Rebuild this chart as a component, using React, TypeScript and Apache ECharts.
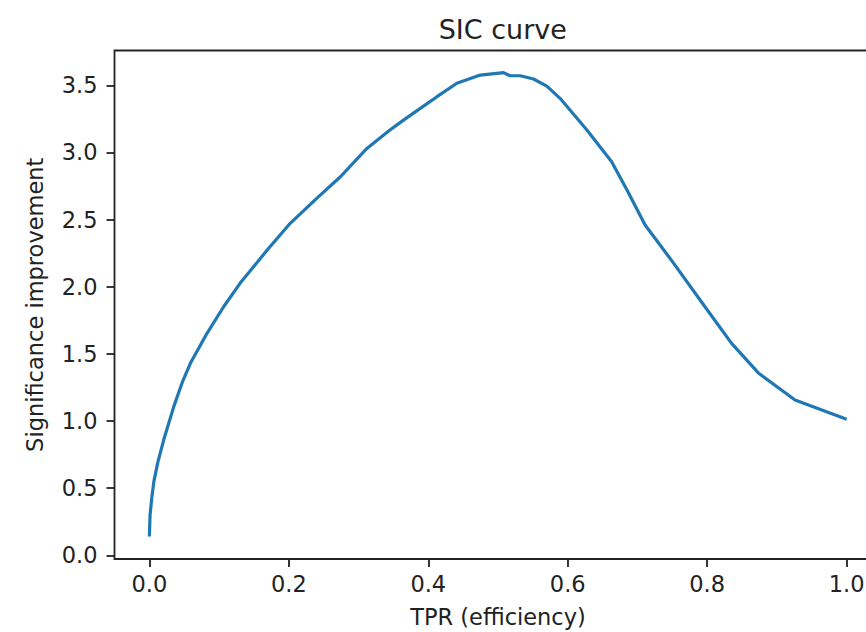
import React, { useEffect, useRef } from "react";
import * as echarts from "echarts";

const tpr = [0, 0.001, 0.0035, 0.0065, 0.012, 0.0205, 0.035, 0.047, 0.0588, 0.0827, 0.1065, 0.13, 0.169, 0.202, 0.24, 0.274, 0.312, 0.345, 0.367, 0.3885, 0.4125, 0.441, 0.4746, 0.508, 0.517, 0.532, 0.551, 0.57, 0.589, 0.6275, 0.663, 0.685, 0.711, 0.752, 0.795, 0.835, 0.874, 0.926, 1.0];
const sic = [0.14, 0.3, 0.43, 0.55, 0.69, 0.858, 1.107, 1.285, 1.43, 1.653, 1.851, 2.025, 2.273, 2.472, 2.658, 2.819, 3.03, 3.167, 3.25, 3.328, 3.415, 3.515, 3.576, 3.594, 3.571, 3.571, 3.547, 3.494, 3.403, 3.167, 2.931, 2.72, 2.459, 2.174, 1.864, 1.578, 1.355, 1.156, 1.013];
const xTicks = [0, 0.2, 0.4, 0.6, 0.8, 1.0];
const yTicks = [0, 0.5, 1.0, 1.5, 2.0, 2.5, 3.0, 3.5];

const FONT = "DejaVu Sans";
const TXT = "#222";

export default function App() {
  const ref = useRef<HTMLDivElement>(null);
  useEffect(() => {
    const chart = echarts.init(ref.current!, null, { renderer: "svg" });
    const data = tpr.map((x, i) => [x, sic[i]]);
    chart.setOption({
      animation: false,
      backgroundColor: "#fff",
      title: {
        text: "SIC curve",
        left: 497.8,
        textAlign: "center",
        top: 11,
        textStyle: { fontFamily: FONT, fontSize: 27, fontWeight: "normal", color: TXT },
      },
      grid: {
        left: 114.5,
        top: 50.5,
        width: 767,
        height: 508.5,
        outerBoundsMode: "none",
        containLabel: false,
        show: true,
        borderColor: "#222",
        borderWidth: 1.8,
        backgroundColor: "transparent",
      },
      xAxis: {
        type: "value",
        min: -0.05,
        max: 1.05,
        name: "TPR (efficiency)",
        nameLocation: "middle",
        nameGap: 46,
        nameMoveOverlap: false,
        nameTextStyle: { fontFamily: FONT, fontSize: 22.5, color: TXT },
        axisLine: { show: false, onZero: false },
        splitLine: { show: false },
        axisTick: { show: true, length: 8, lineStyle: { color: "#222", width: 1.8 }, customValues: xTicks },
        axisLabel: {
          customValues: xTicks,
          formatter: (v: number) => v.toFixed(1),
          fontFamily: FONT,
          fontSize: 22.5,
          color: TXT,
          margin: 13,
        },
      },
      yAxis: {
        type: "value",
        min: -0.0276,
        max: 3.759,
        name: "Significance improvement",
        nameLocation: "middle",
        nameRotate: 90,
        nameGap: 68,
        nameMoveOverlap: false,
        nameTextStyle: { fontFamily: FONT, fontSize: 22.5, color: TXT },
        axisLine: { show: false, onZero: false },
        splitLine: { show: false },
        axisTick: { show: true, length: 8, lineStyle: { color: "#222", width: 1.8 }, customValues: yTicks },
        axisLabel: {
          customValues: yTicks,
          formatter: (v: number) => v.toFixed(1),
          fontFamily: FONT,
          fontSize: 22.5,
          color: TXT,
          margin: 17,
        },
      },
      series: [
        {
          type: "line",
          data,
          showSymbol: false,
          smooth: false,
          lineStyle: { color: "#1f77b4", width: 3.2 },
          clip: true,
        },
      ],
    });
    return () => chart.dispose();
  }, []);
  return (
    <div
      ref={ref}
      style={{ position: "absolute", left: 0, top: 0, width: 866, height: 632 }}
    />
  );
}
